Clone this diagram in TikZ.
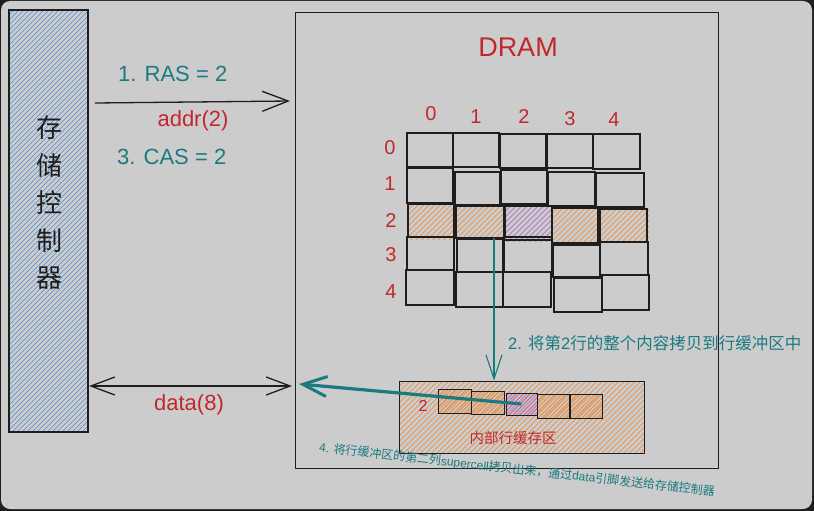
\documentclass[tikz,border=0pt]{standalone}
\usepackage{fontspec}
\setmainfont{Liberation Sans}
\newfontfamily\cjk{Noto Sans CJK SC}
\usetikzlibrary{arrows.meta}
\definecolor{bgdark}{HTML}{1E1E1E}
\definecolor{paper}{HTML}{CCCCCC}
\definecolor{ink}{HTML}{1E1E1E}
\definecolor{tealc}{HTML}{1B7A80}
\definecolor{redc}{HTML}{C1282D}
\definecolor{bluec}{HTML}{4A8FD8}
\definecolor{orangec}{HTML}{E8914A}
\definecolor{purplec}{HTML}{B46CC4}
% cell node from corner coordinates
\newcommand\mycell[6]{\node[#1, minimum width={(#5)-(#3)}, minimum height={(#6)-(#4)}] (#2) at ({((#3)+(#5))/2},{((#4)+(#6))/2}) {};}
% hand-made hatching: colour, horizontal spacing, line width, x1, y1, x2, y2
\newcommand\hatch[7]{%
  \begin{scope}
  \clip (#4,#5) rectangle (#6,#7);
  \pgfmathsetmacro\hend{(#6)-(#4)+(#7)-(#5)}
  \foreach \hk in {0,#2,...,\hend} {\draw[#1, line width=#3] ({(#4)-((#7)-(#5))+\hk},#7) -- ({(#4)+\hk},#5);}
  \end{scope}}
\tikzset{
  gridcell/.style={draw=ink, line width=1.2pt, inner sep=0pt, outer sep=0pt},
  bufcell/.style={gridcell, line width=1pt},
  numlbl/.style={text=redc, font=\fontsize{20}{24}\selectfont, inner sep=0pt},
  tealtxt/.style={text=tealc, font=\fontsize{22}{26}\selectfont, inner sep=0pt},
  redtxt/.style={text=redc, font=\fontsize{22}{26}\selectfont, inner sep=0pt},
  blackarrow/.style={draw=ink, line width=1.3pt, -{Straight Barb[length=26pt,width=20pt,line width=1.3pt]}},
  datarrow/.style={draw=ink, line width=1.3pt, {Straight Barb[length=24pt,width=18pt,line width=1.3pt]}-{Straight Barb[length=24pt,width=18pt,line width=1.3pt]}},
  tealarrow/.style={draw=tealc, line width=1.1pt, -{Straight Barb[length=24pt,width=16pt,line width=1.1pt]}},
  thickteal/.style={draw=tealc, line width=3.2pt, -{Straight Barb[length=24pt,width=20pt,line width=3pt]}}
}
\begin{document}
\begin{tikzpicture}[x=1pt,y=-1pt]
\useasboundingbox (0,0) rectangle (814,511);
\fill[bgdark] (0,0) rectangle (814,511);
\fill[paper, rounded corners=9pt] (1,1) rectangle (812,509);

% memory controller
\hatch{bluec}{5}{0.7pt}{9}{10}{88}{432}
\node[draw=ink, line width=1.3pt, minimum width=79pt, minimum height=422pt, inner sep=0pt] (ctrl) at (48.5,221) {};
\node[font=\cjk\fontsize{26}{37.5}\selectfont, align=center, text=ink, inner sep=0pt] (ctrltext) at (49,203) {存\\储\\控\\制\\器};

% DRAM box
\node[draw=ink, line width=0.9pt, minimum width=423pt, minimum height=456pt, inner sep=0pt] (dram) at (506.5,240) {};
\node[text=redc, font=\fontsize{27}{30}\selectfont, inner sep=0pt] (dramlbl) at (518,47) {DRAM};

% address arrow
\coordinate (a1s) at (95,103);
\coordinate (a1e) at (290,101);
\draw[blackarrow] (a1s) -- (a1e);
\node[tealtxt, anchor=west] (ras) at (118,74) {1. RAS = 2};
\node[redtxt] (addr) at (193,121) {addr(2)};
\node[tealtxt, anchor=west] (cas) at (117,157) {3. CAS = 2};

% data arrow
\coordinate (d1) at (89,386);
\coordinate (d2) at (292,386);
\draw[datarrow] (d1) -- (d2);
\node[redtxt] (data) at (189,405) {data(8)};

% column and row labels
\node[numlbl] (cl0) at (431,114) {0};
\node[numlbl] (cl1) at (476,117) {1};
\node[numlbl] (cl2) at (524,117) {2};
\node[numlbl] (cl3) at (570,119) {3};
\node[numlbl] (cl4) at (614,120) {4};
\node[numlbl] (rl0) at (390,148) {0};
\node[numlbl] (rl1) at (390,184) {1};
\node[numlbl] (rl2) at (391,221) {2};
\node[numlbl] (rl3) at (391,255) {3};
\node[numlbl] (rl4) at (391,292) {4};

% hatching of row 2
\hatch{orangec}{5.5}{0.7pt}{408}{204}{454}{240}
\hatch{orangec}{5.5}{0.7pt}{456}{206}{504}{240}
\hatch{purplec}{5.5}{0.7pt}{505}{206}{552}{242}
\hatch{orangec}{5.5}{0.7pt}{552}{208}{598}{243}
\hatch{orangec}{5.5}{0.7pt}{600}{209}{649}{242}

% grid
\mycell{gridcell}{r0c0}{407}{133}{453}{167}
\mycell{gridcell}{r0c1}{453}{133}{499}{167}
\mycell{gridcell}{r0c2}{500}{134}{546}{168}
\mycell{gridcell}{r0c3}{547}{134}{593}{168}
\mycell{gridcell}{r0c4}{593}{134}{640}{169}
\mycell{gridcell}{r1c0}{407}{168}{453}{203}
\mycell{gridcell}{r1c1}{455}{172}{500}{205}
\mycell{gridcell}{r1c2}{501}{170}{547}{204}
\mycell{gridcell}{r1c3}{548}{172}{595}{206}
\mycell{gridcell}{r1c4}{596}{173}{644}{207}
\mycell{gridcell}{r2c0}{408}{204}{454}{237}
\mycell{gridcell}{r2c1}{456}{206}{504}{238}
\mycell{gridcell}{r2c2}{505}{206}{552}{237}
\mycell{gridcell}{r2c3}{552}{208}{598}{243}
\mycell{gridcell}{r2c4}{600}{209}{647}{242}
\mycell{gridcell}{r3c0}{407}{237}{454}{270}
\mycell{gridcell}{r3c1}{457}{239}{503}{272}
\mycell{gridcell}{r3c2}{504}{240}{552}{272}
\mycell{gridcell}{r3c3}{553}{245}{600}{277}
\mycell{gridcell}{r3c4}{600}{242}{648}{275}
\mycell{gridcell}{r4c0}{406}{270}{454}{305}
\mycell{gridcell}{r4c1}{456}{272}{503}{307}
\mycell{gridcell}{r4c2}{503}{272}{551}{307}
\mycell{gridcell}{r4c3}{554}{278}{602}{312}
\mycell{gridcell}{r4c4}{602}{275}{649}{310}

% row buffer
\hatch{orangec}{5.5}{0.7pt}{399}{381}{644}{453}
\node[draw=ink, line width=0.9pt, minimum width=245pt, minimum height=72pt, inner sep=0pt] (buf) at (521.5,417) {};
\hatch{orangec}{3.6}{0.8pt}{438}{389}{471}{413}
\hatch{orangec}{3.6}{0.8pt}{471}{391}{504}{414}
\hatch{purplec}{3.6}{0.8pt}{506}{393}{537}{415}
\hatch{orangec}{3.6}{0.8pt}{537}{394}{569}{418}
\hatch{orangec}{3.6}{0.8pt}{570}{394}{602}{418}
\mycell{bufcell}{b0}{438}{389}{471}{413}
\mycell{bufcell}{b1}{471}{391}{504}{414}
\mycell{bufcell}{b2}{506}{393}{537}{415}
\mycell{bufcell}{b3}{537}{394}{569}{418}
\mycell{bufcell}{b4}{570}{394}{602}{418}
\node[text=redc, font=\fontsize{16}{18}\selectfont, inner sep=0pt] (bufrow) at (423,406) {2};
\node[text=redc, font=\cjk\fontsize{14.5}{16}\selectfont, inner sep=0pt] (buflbl) at (513,438) {内部行缓存区};

% step 2 arrow
\coordinate (vtop) at (494,238);
\draw[tealarrow] (vtop) -- (vtop |- buf.north);
\node[text=tealc, font=\fontsize{16.5}{19}\selectfont, anchor=west, inner sep=0pt] (step2) at (508,343)
  {2. {\cjk 将第}2{\cjk 行的整个内容拷贝到行缓冲区中}};

% step 4 arrow
\coordinate (tip4) at (299,384);
\draw[thickteal] (b2.center) -- (tip4);
\node[text=tealc, font=\fontsize{12}{14}\selectfont, rotate=-6.4, inner sep=0pt] (step4) at (517,470)
  {4. {\cjk 将行缓冲区的第二列}supercell{\cjk 拷贝出来，通过}data{\cjk 引脚发送给存储控制器}};
\end{tikzpicture}
\end{document}
